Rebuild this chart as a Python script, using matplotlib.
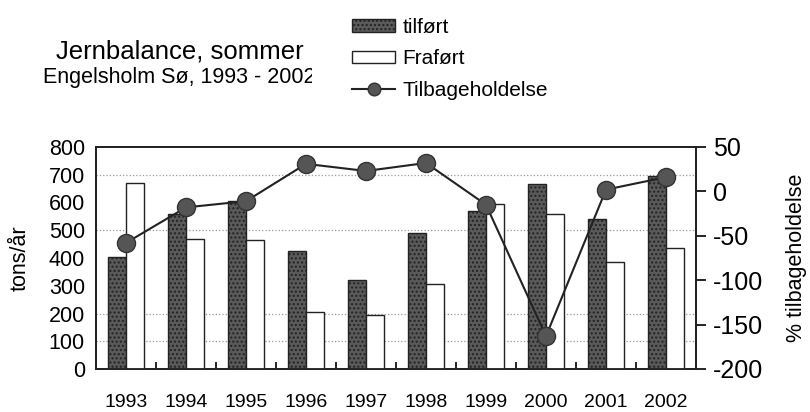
import matplotlib
matplotlib.use('Agg')
import matplotlib.pyplot as plt
import numpy as np
from matplotlib.transforms import Bbox

plt.rcParams['font.family'] = ['Liberation Sans', 'DejaVu Sans']
plt.rcParams['axes.unicode_minus'] = False
plt.rcParams['hatch.color'] = '#444444'

years = ['1993', '1994', '1995', '1996', '1997', '1998', '1999', '2000', '2001', '2002']
tilfort = [405, 560, 605, 425, 320, 490, 570, 665, 540, 695]
frafort = [670, 470, 465, 205, 195, 305, 595, 560, 385, 435]
tilbage = [-58, -18, -11, 31, 23, 32, -15, -163, 2, 16]
grid_levels = [100, 200, 500, 700]

fig = plt.figure(figsize=(8.1, 4.12), dpi=100)
ax = fig.add_axes([96 / 810, 43 / 412, 600 / 810, 222 / 412])

x = np.arange(len(years))
w = 0.3
b1 = ax.bar(x - w / 2, tilfort, w, color='#5a5a5a', edgecolor='#222222',
            linewidth=1.0, hatch='....', label='tilført', zorder=3)
b2 = ax.bar(x + w / 2, frafort, w, color='white', edgecolor='#222222',
            linewidth=1.0, label='Fraført', zorder=3)
for lv in grid_levels:
    ax.axhline(lv, color='0.6', linestyle=':', linewidth=0.9, zorder=1)

ax.set_xlim(-0.5, len(years) - 0.5)
ax.set_ylim(0, 800)
ax.set_yticks(range(0, 801, 100))
ax.set_xticks(x)
ax.set_xticklabels(years, fontsize=14)
ax.set_xticks(x[:-1] + 0.5, minor=True)
ax.tick_params(axis='x', which='major', length=0, pad=18)
ax.tick_params(axis='x', which='minor', direction='in', length=5, width=1.2)
ax.tick_params(axis='y', length=0, labelsize=15.5, pad=8)
ax.set_ylabel('tons/år', fontsize=15.5)
ax.yaxis.set_label_coords(-65 / 600, 0.5)
for s in ax.spines.values():
    s.set_linewidth(1.3)
    s.set_color('#222222')

ax2 = ax.twinx()
ln, = ax2.plot(x, tilbage, color='#222222', linewidth=1.5, marker='o',
               markersize=13, markerfacecolor='#555555',
               markeredgecolor='#333333', label='Tilbageholdelse', zorder=4)
ax2.set_ylim(-200, 50)
ax2.set_yticks(range(-200, 51, 50))
ax2.tick_params(axis='y', length=7, width=1.2, labelsize=18, pad=5)
ax2.set_ylabel('% tilbageholdelse', fontsize=15.5)
ax2.yaxis.set_label_coords(1 + 90 / 600, 0.5)
for s in ax2.spines.values():
    s.set_linewidth(1.3)
    s.set_color('#222222')

fig.text(180 / 810, 1 - 51 / 412, 'Jernbalance, sommer', fontsize=18.5,
         ha='center', va='center')
sub = fig.text(43 / 810, 1 - 77 / 412, 'Engelsholm Sø, 1993 - 2002',
               fontsize=15.5, ha='left', va='center')
sub.set_clip_box(Bbox([[0, 0], [312, 412]]))
sub.set_clip_on(True)

leg = fig.legend(handles=[b1, b2, ln],
                 labels=['tilført', 'Fraført', 'Tilbageholdelse'],
                 loc='upper left', bbox_to_anchor=(352 / 810, 1 - 18 / 412),
                 frameon=False, fontsize=15, handlelength=2.07,
                 handleheight=0.55, handletextpad=0.35, labelspacing=0.6,
                 borderaxespad=0, borderpad=0, markerscale=0.7)

fig.savefig('out.png', dpi=100, facecolor='white')
